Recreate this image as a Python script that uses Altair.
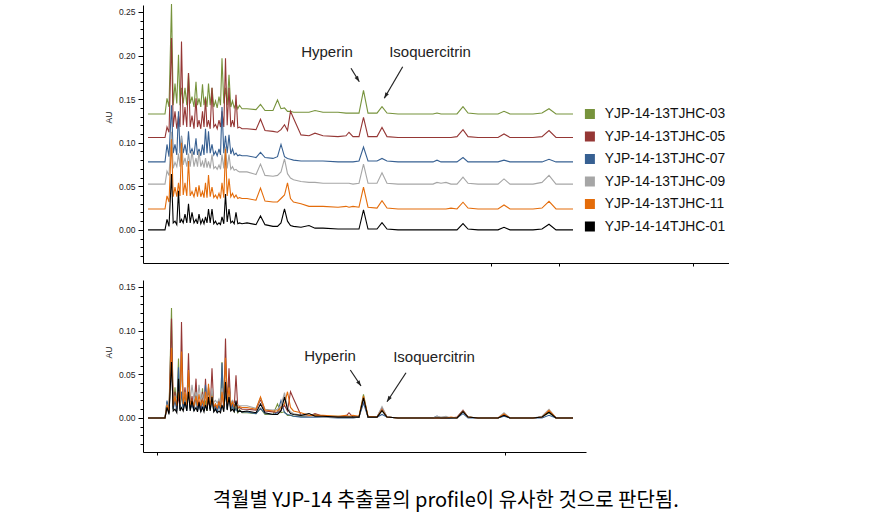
import altair as alt
import pandas as pd

SAMPLES = ["YJP-14-13TJHC-03", "YJP-14-13TJHC-05", "YJP-14-13TJHC-07",
           "YJP-14-13TJHC-09", "YJP-14-13TJHC-11", "YJP-14-14TJHC-01"]
COLORS = ["#77933C", "#953735", "#376092", "#A6A6A6", "#E46C0A", "#000000"]
OFFSETS = [0.133, 0.106, 0.078, 0.0525, 0.024, 0.0]

# retention-time vertices (arbitrary time units)
START_T = [0.5, 2.2]
PEAK_T = [2.4, 2.85, 3.2, 3.55, 3.85, 4.2, 4.55, 4.9, 5.3, 5.6, 5.95, 6.25, 6.55, 6.9,
          7.25, 7.6, 7.9, 8.25, 8.6, 8.95, 9.3, 9.65]
VALLEY_T = [2.6, 3.02, 3.38, 3.7, 4.02, 4.38, 4.72, 5.1, 5.45, 5.78, 6.1, 6.4, 6.72, 7.08,
            7.42, 7.75, 8.08, 8.42, 8.78, 9.12, 9.48, 9.9]
MID_T = [10.4, 11.3, 11.75, 12.2, 13.0, 13.45, 13.8, 14.15, 14.45, 14.75, 15.05, 15.8, 16.6,
         17.2, 18.0, 19.5, 20.3, 20.6, 21.0, 21.6, 22.05, 22.5, 23.4, 23.9, 24.4, 25.5, 27.0,
         29.0, 29.4, 29.8, 30.3, 30.8, 31.4, 32.0, 32.5, 33.5, 35.5, 36.1, 36.7, 39.0, 39.9,
         40.6, 41.3, 43.0]

GREEN_PK = [0.018, 0.126, 0.035, 0.068, 0.03, 0.03, 0.047, 0.02, 0.037, 0.018, 0.034, 0.02,
            0.035, 0.03, 0.015, 0.02, 0.064, 0.03, 0.045, 0.015, 0.012, 0.01]
GREEN_VL = [0.008, 0.01, 0.012, 0.01, 0.012, 0.01, 0.012, 0.008, 0.01, 0.008, 0.01, 0.008,
            0.01, 0.008, 0.007, 0.01, 0.012, 0.01, 0.008, 0.007, 0.006, 0.006]
GREEN_MID = [0.006, 0.005, 0.011, 0.004, 0.004, 0.016, 0.006, 0.007, 0.003, 0.003, 0.002,
             0.002, 0.002, 0.004, 0.002, 0.002, 0.001, 0.001, 0.001, 0.001, 0.027, 0.001,
             0.001, 0.0085, 0.001, 0.0, 0.0, 0.0, 0.001, 0.0, 0.0, 0.0, 0.0, 0.0085, 0.001,
             0.0, 0.0, 0.003, 0.0, 0.0, 0.001, 0.006, 0.0, 0.0]

RED_PK = [0.012, 0.114, 0.03, 0.025, 0.11, 0.035, 0.074, 0.025, 0.045, 0.02, 0.03, 0.045,
          0.02, 0.057, 0.015, 0.02, 0.03, 0.091, 0.057, 0.02, 0.049, 0.012]
RED_VL = [0.006, 0.012, 0.01, 0.012, 0.014, 0.012, 0.012, 0.01, 0.012, 0.01, 0.012, 0.012,
          0.01, 0.012, 0.01, 0.012, 0.012, 0.014, 0.012, 0.012, 0.011, 0.01]
RED_MID = [0.01, 0.009, 0.021, 0.008, 0.007, 0.006, 0.009, 0.0146, 0.008, 0.03, 0.022, 0.003,
           0.002, 0.005, 0.002, 0.001, 0.002, 0.006, 0.001, 0.001, 0.023, 0.001, 0.001,
           0.0115, 0.001, 0.0, 0.0, 0.0, 0.0, 0.0, 0.0, 0.0, 0.001, 0.009, 0.001, 0.0, 0.0,
           0.004, 0.0, 0.0, 0.001, 0.008, 0.0, 0.0]

BLUE_PK = [0.02, 0.065, 0.02, 0.058, 0.03, 0.02, 0.035, 0.015, 0.027, 0.015, 0.02, 0.038,
           0.035, 0.02, 0.012, 0.015, 0.063, 0.03, 0.031, 0.015, 0.01, 0.008]
BLUE_VL = [0.006, 0.01, 0.008, 0.01, 0.01, 0.008, 0.01, 0.008, 0.008, 0.007, 0.008, 0.01,
           0.01, 0.008, 0.007, 0.008, 0.01, 0.01, 0.009, 0.008, 0.007, 0.007]
BLUE_MID = [0.007, 0.005, 0.011, 0.005, 0.004, 0.006, 0.02, 0.006, 0.004, 0.003, 0.002,
            0.001, 0.001, 0.001, 0.001, 0.0, 0.0, 0.0, 0.0, 0.001, 0.017, 0.001, 0.001,
            0.004, 0.001, 0.0, 0.0, 0.0, 0.002, 0.0, 0.0, 0.0, 0.0, 0.005, 0.0, 0.0, 0.0,
            0.002, 0.0, 0.0, 0.0, 0.003, 0.0, 0.0]

GRAY_PK = [0.015, 0.06, 0.025, 0.035, 0.055, 0.03, 0.035, 0.038, 0.03, 0.038, 0.026, 0.03,
           0.026, 0.034, 0.02, 0.022, 0.034, 0.043, 0.034, 0.02, 0.017, 0.014]
GRAY_VL = [0.01, 0.018, 0.02, 0.02, 0.022, 0.02, 0.02, 0.02, 0.02, 0.02, 0.019, 0.019,
           0.018, 0.018, 0.017, 0.017, 0.018, 0.018, 0.017, 0.016, 0.015, 0.014]
GRAY_MID = [0.014, 0.011, 0.023, 0.01, 0.009, 0.01, 0.014, 0.029, 0.012, 0.007, 0.005,
            0.003, 0.002, 0.002, 0.001, 0.001, 0.001, 0.001, 0.0, 0.001, 0.023, 0.001,
            0.001, 0.013, 0.001, 0.0, 0.0, 0.0, 0.002, 0.001, 0.002, 0.0, 0.0, 0.008,
            0.001, 0.0, 0.0, 0.006, 0.0, 0.0, 0.002, 0.01, 0.0, 0.0]

ORANGE_PK = [0.015, 0.08, 0.025, 0.03, 0.076, 0.03, 0.055, 0.02, 0.025, 0.027, 0.02, 0.03,
             0.039, 0.025, 0.016, 0.018, 0.03, 0.069, 0.035, 0.018, 0.016, 0.013]
ORANGE_VL = [0.008, 0.014, 0.014, 0.015, 0.016, 0.015, 0.015, 0.014, 0.014, 0.014, 0.013,
             0.013, 0.014, 0.013, 0.012, 0.012, 0.013, 0.015, 0.014, 0.013, 0.012, 0.012]
ORANGE_MID = [0.012, 0.01, 0.024, 0.009, 0.008, 0.008, 0.012, 0.016, 0.03, 0.012, 0.008,
              0.006, 0.003, 0.003, 0.003, 0.002, 0.003, 0.002, 0.003, 0.002, 0.025, 0.002,
              0.001, 0.0095, 0.001, 0.0, 0.0, 0.0, 0.0, 0.0, 0.0, 0.001, 0.0, 0.0077,
              0.001, 0.0, 0.0, 0.0046, 0.0, 0.0, 0.001, 0.0087, 0.0, 0.0]

BLACK_PK = [0.012, 0.064, 0.01, 0.045, 0.012, 0.018, 0.03, 0.02, 0.012, 0.018, 0.012, 0.015,
            0.024, 0.024, 0.01, 0.008, 0.015, 0.041, 0.024, 0.01, 0.02, 0.008]
BLACK_VL = [0.004, 0.008, 0.006, 0.008, 0.008, 0.008, 0.008, 0.008, 0.007, 0.007, 0.007,
            0.008, 0.008, 0.007, 0.006, 0.006, 0.007, 0.009, 0.008, 0.007, 0.007, 0.007]
BLACK_MID = [0.008, 0.006, 0.016, 0.006, 0.004, 0.004, 0.008, 0.024, 0.01, 0.005, 0.004,
             0.003, 0.005, 0.002, 0.002, 0.001, 0.001, 0.001, 0.001, 0.001, 0.023, 0.001,
             0.001, 0.0084, 0.001, 0.0, 0.0, 0.0, 0.0, 0.0, 0.0, 0.0, 0.0, 0.0073, 0.001,
             0.0, 0.0, 0.003, 0.0, 0.0, 0.001, 0.0065, 0.0, 0.0]

TRACES = [(GREEN_PK, GREEN_VL, GREEN_MID), (RED_PK, RED_VL, RED_MID),
          (BLUE_PK, BLUE_VL, BLUE_MID), (GRAY_PK, GRAY_VL, GRAY_MID),
          (ORANGE_PK, ORANGE_VL, ORANGE_MID), (BLACK_PK, BLACK_VL, BLACK_MID)]

TOP_MAJOR = [0.0, 0.05, 0.10, 0.15, 0.20, 0.25]
BOT_MAJOR = [0.0, 0.05, 0.10, 0.15]
TOP_MINOR = [-0.03, -0.02, -0.01, 0.01, 0.02, 0.03, 0.04, 0.06, 0.07, 0.08, 0.09, 0.11,
             0.12, 0.13, 0.14, 0.16, 0.17, 0.18, 0.19, 0.21, 0.22, 0.23, 0.24]
BOT_MINOR = [-0.03, -0.02, -0.01, 0.01, 0.02, 0.03, 0.04, 0.06, 0.07, 0.08, 0.09, 0.11,
             0.12, 0.13, 0.14]
TOP_XTICKS = [34.8, 41.6, 55.0]
BOT_XTICKS = [1.4, 36.2]

ANN_LABELS = ["Hyperin", "Isoquercitrin"]
TOP_TEXT_T = [18.4, 28.7]
TOP_TEXT_V = [0.2041, 0.2041]
TOP_ARROW_T1 = [20.8, 25.97]
TOP_ARROW_V1 = [0.1854, 0.1872]
TOP_ARROW_T2 = [21.63, 24.13]
TOP_ARROW_V2 = [0.1700, 0.1510]
TOP_ARROW_ANGLE = [148, 210]
BOT_TEXT_T = [18.7, 29.1]
BOT_TEXT_V = [0.071, 0.0698]
BOT_ARROW_T1 = [20.73, 26.3]
BOT_ARROW_V1 = [0.0549, 0.0518]
BOT_ARROW_T2 = [21.8, 24.4]
BOT_ARROW_V2 = [0.0366, 0.0186]
BOT_ARROW_ANGLE = [146, 213]

CAPTION = "격월별 YJP-14 추출물의 profile이 유사한 것으로 판단됨."

# ---- assemble table
T = START_T + [x for pair in zip(PEAK_T, VALLEY_T) for x in pair] + MID_T
rows = []
for i, (name, (pk, vl, mid)) in enumerate(zip(SAMPLES, TRACES)):
    vals = [0.0, 0.0] + [x for pair in zip(pk, vl) for x in pair] + mid
    for k, (t, v) in enumerate(zip(T, vals)):
        rows.append({"t": t, "au": v, "stacked": v + OFFSETS[i], "sample": name, "k": k})
df = pd.DataFrame(rows)

top_ann = pd.DataFrame({"label": ANN_LABELS, "tt": TOP_TEXT_T, "tv": TOP_TEXT_V,
                        "x1": TOP_ARROW_T1, "y1": TOP_ARROW_V1, "x2": TOP_ARROW_T2,
                        "y2": TOP_ARROW_V2, "ang": TOP_ARROW_ANGLE})
bot_ann = pd.DataFrame({"label": ANN_LABELS, "tt": BOT_TEXT_T, "tv": BOT_TEXT_V,
                        "x1": BOT_ARROW_T1, "y1": BOT_ARROW_V1, "x2": BOT_ARROW_T2,
                        "y2": BOT_ARROW_V2, "ang": BOT_ARROW_ANGLE})

FONT = "Liberation Sans"
ARROW = "M0,0L0.42,1.2L-0.42,1.2Z"


def major_axis(values, title_y):
    return alt.Axis(values=values, format=".2f", title="AU", titleFont=FONT,
                    titleFontSize=8.5, titleFontWeight="normal", titleColor="#222",
                    titlePadding=5, titleY=title_y, labelFont=FONT, labelFontSize=8.5,
                    labelColor="#222", labelOverlap=False, labelPadding=3, tickSize=5,
                    tickColor="#000", domainColor="#000", grid=False, orient="left")


def minor_axis(values):
    return alt.Axis(values=values, labels=False, title=None, tickSize=3, tickColor="#000",
                    domain=False, grid=False, orient="left")


def x_axis(values):
    return alt.Axis(values=values, labels=False, title=None, tickSize=3,
                    tickColor="#000", domainColor="#000", grid=False)


def panel(yfield, xdom, ydom, xticks, major, minor, title_y, ann, w, h, legend):
    xs = alt.Scale(domain=xdom, nice=False, zero=False)
    ys = alt.Scale(domain=ydom, nice=False, zero=False)
    color = alt.Color("sample:N", scale=alt.Scale(domain=SAMPLES, range=COLORS), legend=legend)
    lines = alt.Chart(df).mark_line(strokeWidth=1.1, clip=False).encode(
        x=alt.X("t:Q", scale=xs, axis=x_axis(xticks)),
        y=alt.Y(f"{yfield}:Q", scale=ys, axis=major_axis(major, title_y)),
        color=color, order="k:Q")
    texts = alt.Chart(ann).mark_text(font=FONT, fontSize=15, color="#222").encode(
        x=alt.X("tt:Q", scale=xs),
        y=alt.Y("tv:Q", scale=ys, axis=minor_axis(minor)),
        text="label:N")
    rules = alt.Chart(ann).mark_rule(color="#222", strokeWidth=1.2).encode(
        x=alt.X("x1:Q", scale=xs), y=alt.Y("y1:Q", scale=ys, axis=None),
        x2="x2:Q", y2="y2:Q")
    heads = alt.Chart(ann).mark_point(shape=ARROW, filled=True, color="#222", size=90,
                                      opacity=1).encode(
        x=alt.X("x2:Q", scale=xs), y=alt.Y("y2:Q", scale=ys, axis=None),
        angle=alt.Angle("ang:Q", scale=None))
    return alt.layer(lines, texts, rules, heads).resolve_axis(y="independent").properties(
        width=w, height=h)


legend = alt.Legend(title=None, orient="none", legendX=440, legendY=102, padding=0,
                    symbolType="square", symbolSize=25, symbolStrokeWidth=5,
                    symbolOpacity=1, labelFont=FONT, labelFontSize=13.8, labelColor="#111",
                    labelOffset=8, rowPadding=8.5, clipHeight=14)

top = panel("stacked", [0, 58.6], [-0.038, 0.258], TOP_XTICKS, TOP_MAJOR, TOP_MINOR, 112,
            top_ann, 586, 258, legend)
bottom = panel("au", [0, 44.3], [-0.039, 0.158], BOT_XTICKS, BOT_MAJOR, BOT_MINOR, 72,
               bot_ann, 443, 172, None)

chart = alt.vconcat(top, bottom, spacing=13).resolve_scale(
    x="independent", y="independent", color="shared"
).properties(
    background="white",
    padding={"left": 104, "top": 1, "right": 0, "bottom": 8},
    title=alt.TitleParams(CAPTION, orient="bottom", anchor="middle",
                          font="Noto Sans CJK KR", fontSize=20, fontWeight="normal",
                          color="#000", offset=35, dx=29),
).configure_view(strokeWidth=0, stroke=None)

chart.save("out.html", embed_options={"renderer": "svg", "actions": False})
